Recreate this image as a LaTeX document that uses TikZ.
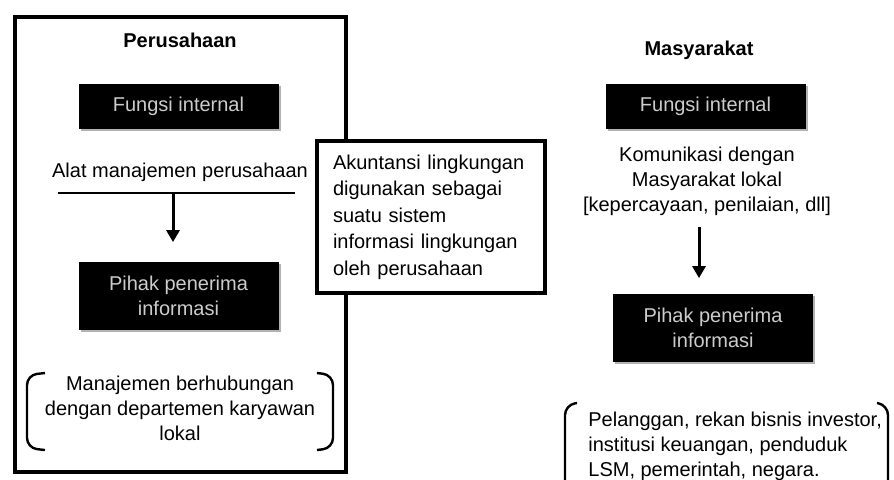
\documentclass[tikz,border=0pt]{standalone}
\usepackage{fontspec}
\setsansfont{Liberation Sans}
\usetikzlibrary{arrows.meta,positioning,shadows,calc}

\begin{document}
\begin{tikzpicture}[
  x=0.5pt, y=-0.5pt,
  font=\sffamily\fontsize{10}{12.5}\selectfont,
  frame/.style={
    draw,
    line width=1.6pt,
    inner sep=0pt
  },
  darkbox/.style={
    fill=black,
    text=white!80!black,
    align=center,
    minimum width=100pt,
    minimum height=22.5pt,
    inner sep=2pt,
    drop shadow={shadow xshift=1.2pt, shadow yshift=-1.2pt, fill=black!30, opacity=1}
  },
  heading/.style={
    font=\sffamily\bfseries\fontsize{10}{12}\selectfont
  },
  plain/.style={
    align=center,
    inner sep=0pt
  },
  infobox/.style={
    draw,
    fill=white,
    line width=1.6pt,
    align=left,
    text width=98pt,
    minimum height=76pt,
    inner xsep=8pt,
    font=\sffamily\fontsize{10}{13.25}\selectfont
  },
  downarrow/.style={
    -{Triangle[length=6pt,width=6.5pt]},
    line width=1.5pt
  },
  bracket/.style={
    line width=1.2pt,
    rounded corners=5pt
  }
]
\clip (0,0) rectangle (894,479);
\fill[white] (0,0) rectangle (894,479);

% Perusahaan side
\node[frame, minimum width=165.5pt, minimum height=227.5pt] (perusahaan_frame) at (180.5,244.5) {};
\node[heading] (perusahaan) at (180,40) {Perusahaan};
\node[darkbox] (fungsi_kiri) at (178.5,106.5) {Fungsi internal};
\node[plain] (alat) at (180,172) {Alat manajemen perusahaan};
\coordinate (garis_kiri) at (58,193);
\coordinate (garis_kanan) at (295,193);
\coordinate (garis_tengah) at (173,193);
\draw[line width=1pt] (garis_kiri) -- (garis_kanan);
\node[darkbox, minimum height=34pt] (penerima_kiri) at (178.5,295.5) {Pihak penerima\\informasi};
\draw[downarrow, shorten >=9.5pt] (garis_tengah) -- (garis_tengah |- penerima_kiri.north);
\node[plain] (manajemen) at (180,408) {Manajemen berhubungan\\dengan departemen karyawan\\lokal};
\draw[bracket] (45,373) -- (27,375) -- (27,448) -- (45,450);
\draw[bracket] (317,373) -- (333,375) -- (333,448) -- (317,450);

% Middle note
\node[infobox] (akuntansi) at (431,217) {Akuntansi lingkungan\\digunakan sebagai\\suatu sistem\\informasi lingkungan\\oleh perusahaan};

% Masyarakat side
\node[heading] (masyarakat) at (699,50) {Masyarakat};
\node[darkbox] (fungsi_kanan) at (705.5,106.5) {Fungsi internal};
\node[plain] (komunikasi) at (707,181) {Komunikasi dengan\\Masyarakat lokal\\{[}kepercayaan, penilaian, dll{]}};
\coordinate (panah_atas) at (699,227);
\node[darkbox, minimum height=34pt] (penerima_kanan) at (713,327.5) {Pihak penerima\\informasi};
\draw[downarrow, shorten >=7.5pt] (panah_atas) -- (panah_atas |- penerima_kanan.north);
\node[plain, align=left, anchor=west] (pelanggan) at (588,446) {Pelanggan, rekan bisnis investor,\\institusi keuangan, penduduk\\LSM, pemerintah, negara.};
\draw[bracket] (577,403) -- (565,405) -- (565,500);
\draw[bracket] (877,403) -- (888,405) -- (888,500);

\end{tikzpicture}
\end{document}
